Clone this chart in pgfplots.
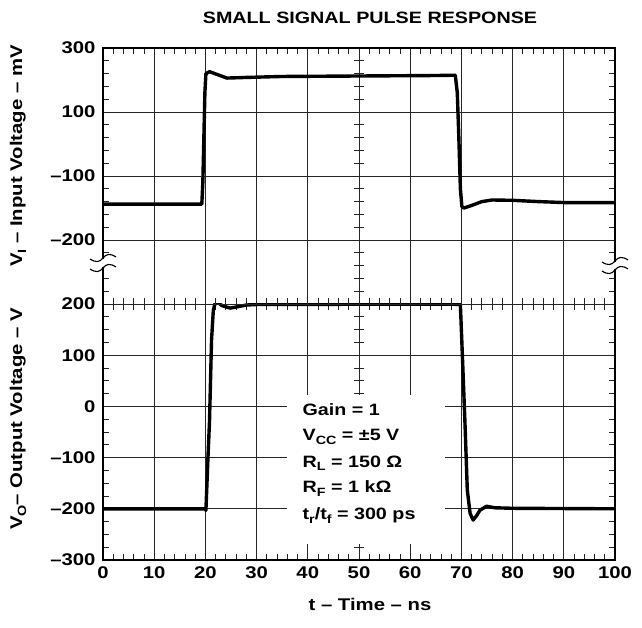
\documentclass[border=0pt]{standalone}
\usepackage{fontspec}
\setmainfont{Liberation Sans}[FakeStretch=1.2]
\usepackage{pgfplots}
\pgfplotsset{compat=1.18}
\newcommand\sub[1]{\raisebox{-0.45ex}{\fontsize{12}{12}\selectfont #1}}
\newcommand\lbl{\bfseries\fontsize{17}{20}\selectfont}

\begin{document}
\begin{tikzpicture}[font=\bfseries]
\useasboundingbox (-103bp,-68bp) rectangle (539bp,560bp);
\pgfplotsset{gr/.style={
  scale only axis, width=512bp, height=256bp, xmin=0, xmax=100,
  xtick={0,10,...,100}, minor x tick num=4,
  grid=major, major grid style={draw=black!85, line width=0.8bp},
  tick style={draw=black!85, line width=0.8bp},
  major tick length=6bp, minor tick length=6bp,
  axis line style={draw=black!85, line width=0.8bp},
  tick label style={font=\lbl},
  yticklabel style={xshift=-4bp},
  xticklabel style={yshift=-3bp},
}}
% ---------- bottom: output voltage ----------
\begin{axis}[gr, at={(0,0)}, anchor=south west,
  ymin=-300, ymax=200, ytick={-300,-200,-100,0,100,200},
  yticklabels={–300,–200,–100,0,100,200}, minor y tick num=3,
  xticklabels={0,10,20,30,40,50,60,70,80,90,100}]
\pgfplotsinvokeforeach{-275,-250,-225,-175,-150,-125,-75,-50,-25,25,50,75,125,150,175}{
  \draw[black!85, line width=0.8bp] ([xshift=-5bp]axis cs:50,#1) -- ([xshift=5bp]axis cs:50,#1);
}
\fill[white] (axis cs:35.9,22) rectangle (axis cs:66.8,-268);
\addplot[black, line width=3.4bp, line join=round, line cap=round] coordinates {
(0,-200) (19.9,-200) (20.1,-203) (20.5,-100) (20.8,-30) (21.2,130) (21.55,188)
(22.0,205) (22.5,203) (23.2,197) (24.8,192) (26.5,195) (28,198) (30,199)
(50,199.5) (68.5,199.5) (69.8,199) (70.2,97) (70.7,-33) (71.15,-163) (71.7,-209)
(72.3,-222) (73.0,-213) (73.6,-203) (74.9,-195) (76.5,-198) (80,-199) (100,-200)
};
\node[anchor=west, font=\bfseries\fontsize{16.5}{18}\selectfont, align=left] at (axis cs:38.3,-7) {Gain = 1};
\node[anchor=west, font=\bfseries\fontsize{16.5}{18}\selectfont] at (axis cs:38.3,-60) {V\sub{CC} = ±5 V};
\node[anchor=west, font=\bfseries\fontsize{16.5}{18}\selectfont] at (axis cs:38.3,-111) {R\sub{L} = 150 Ω};
\node[anchor=west, font=\bfseries\fontsize{16.5}{18}\selectfont] at (axis cs:38.3,-161) {R\sub{F} = 1 kΩ};
\node[anchor=west, font=\bfseries\fontsize{16.5}{18}\selectfont] at (axis cs:38.3,-214) {t\sub{r}/t\sub{f} = 300 ps};
\end{axis}
% ---------- top: input voltage ----------
\begin{axis}[gr, at={(0,256bp)}, anchor=south west,
  ymin=0, ymax=4, ytick={0,1,2,3,4},
  yticklabels={,–200,–100,100,300}, minor y tick num=4,
  xticklabels={}]
\pgfplotsinvokeforeach{0.2,0.4,0.6,0.8,1.2,1.4,1.6,1.8,2.2,2.4,2.6,2.8,3.2,3.4,3.6,3.8}{
  \draw[black!85, line width=0.8bp] ([xshift=-5bp]axis cs:50,#1) -- ([xshift=5bp]axis cs:50,#1);
}
\addplot[black, line width=3.4bp, line join=round, line cap=round] coordinates {
(0,1.56) (19.3,1.56) (19.5,1.9) (19.7,2.6) (19.9,3.3) (20.1,3.6) (20.8,3.63)
(22.5,3.58) (24.2,3.53) (28,3.54) (35,3.555) (45,3.56) (55,3.565) (65,3.57)
(68.8,3.575) (69.2,3.3) (69.5,2.6) (69.8,1.8) (70.1,1.52) (70.5,1.50) (72,1.54)
(74,1.60) (76,1.625) (80,1.62) (85,1.60) (90,1.585) (100,1.585)
};
\end{axis}
% ---------- frame with breaks ----------
\fill[white] (-3bp,293bp) rectangle (8bp,301bp);
\fill[white] (504bp,291bp) rectangle (515bp,298bp);
\draw[black, line width=2.4bp] (0,301bp) -- (0,512bp) -- (512bp,512bp) -- (512bp,298bp);
\draw[black, line width=2.4bp] (512bp,291bp) -- (512bp,0) -- (0,0) -- (0,293bp);
\foreach \yy in {302,292}{
  \draw[black, line width=1.1bp] (-13bp,\yy bp-1bp) .. controls (-7bp,\yy bp-5bp) and (-3bp,\yy bp-4bp) .. (0,\yy bp)
     .. controls (3bp,\yy bp+4bp) and (7bp,\yy bp+5bp) .. (13bp,\yy bp+1bp);
}
\foreach \yy in {299,290}{
  \draw[black, line width=1.1bp] (499bp,\yy bp-1bp) .. controls (505bp,\yy bp-5bp) and (509bp,\yy bp-4bp) .. (512bp,\yy bp)
     .. controls (515bp,\yy bp+4bp) and (519bp,\yy bp+5bp) .. (525bp,\yy bp+1bp);
}
% ---------- labels ----------
\node[font=\bfseries\fontsize{16.5}{18}\selectfont] at (267bp,542bp) {SMALL SIGNAL PULSE RESPONSE};
\node[font=\lbl] at (267bp,-44bp) {t – Time – ns};
\node[rotate=90, font=\lbl] at (-85bp,404bp) {V\sub{I} – Input Voltage – mV};
\node[rotate=90, font=\lbl] at (-85bp,141bp) {V\sub{O}– Output Voltage – V};
\end{tikzpicture}
\end{document}
